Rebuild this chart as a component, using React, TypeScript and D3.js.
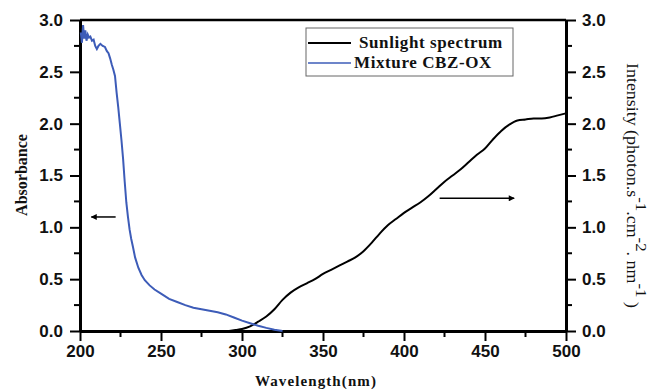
import { useEffect, useRef } from "react";
import * as d3 from "d3";

// Mixture CBZ-OX absorbance (left axis)
const mixtureWavelength = [
    200.5, 201.2, 201.9, 202.6, 203.3, 204.0, 204.8, 205.6, 206.4, 207.4, 208.4, 209.4,
    210.4, 211.4, 212.6, 214.0, 215.4, 216.6, 217.6, 218.6, 219.6, 220.6, 221.6, 222.6,
    223.6, 224.6, 225.6, 226.6, 227.6, 228.6, 229.6, 230.6, 231.6, 232.7, 234, 236, 238,
    240, 243, 246, 250, 255, 260, 265, 270, 275, 280, 285, 290, 295, 300, 305, 310, 315,
    320, 325,
];
const mixtureAbsorbance = [
    2.88, 2.78, 2.95, 2.82, 2.90, 2.80, 2.86, 2.83, 2.84, 2.80, 2.81, 2.75,
    2.72, 2.75, 2.77, 2.75, 2.74, 2.70, 2.68, 2.63, 2.57, 2.52, 2.46, 2.30,
    2.16, 2.00, 1.84, 1.66, 1.44, 1.24, 1.10, 0.98, 0.89, 0.81, 0.71, 0.61, 0.54,
    0.49, 0.44, 0.40, 0.36, 0.31, 0.28, 0.25, 0.225, 0.21, 0.195, 0.18, 0.16, 0.13,
    0.10, 0.075, 0.05, 0.03, 0.012, 0.0,
];

// Sunlight spectrum intensity (right axis)
const sunWavelength = [
    292, 296, 300, 305, 310, 315, 320, 325, 330, 335, 340, 345, 350, 355, 360, 365,
    370, 375, 380, 385, 390, 395, 400, 405, 410, 415, 420, 425, 430, 435, 440, 445,
    450, 455, 460, 465, 470, 475, 480, 485, 490, 495, 500,
];
const sunIntensity = [
    0.0, 0.01, 0.02, 0.045, 0.09, 0.14, 0.21, 0.30, 0.37, 0.42, 0.46, 0.50, 0.55, 0.59,
    0.63, 0.67, 0.71, 0.77, 0.85, 0.94, 1.02, 1.08, 1.14, 1.19, 1.24, 1.30, 1.37, 1.44,
    1.50, 1.56, 1.63, 1.70, 1.76, 1.85, 1.93, 1.99, 2.03, 2.04, 2.05, 2.05, 2.06, 2.08,
    2.10,
];

const xTicks = [200, 250, 300, 350, 400, 450, 500];
const xMinorTicks = [225, 275, 325, 375, 425, 475];
const yTicks = [0, 0.5, 1.0, 1.5, 2.0, 2.5, 3.0];
const yMinorTicks = [0.25, 0.75, 1.25, 1.75, 2.25, 2.75];
const legendLabels = ["Sunlight spectrum", "Mixture CBZ-OX"];

const width = 648;
const height = 390;
const margin = { top: 20, right: 82, bottom: 59, left: 80 };
const blue = "#3d5cb8";
const tickFont = "'Liberation Sans', Arial, sans-serif";
const serif = "'Liberation Serif', 'Times New Roman', serif";

const App = () => {
    const svgRef = useRef<SVGSVGElement>(null);

    useEffect(() => {
        if (!svgRef.current) return;
        const svg = d3.select(svgRef.current);
        svg.selectAll("*").remove();

        const x = d3.scaleLinear().domain([200, 500]).range([margin.left, width - margin.right]);
        const y = d3.scaleLinear().domain([0, 3]).range([height - margin.bottom, margin.top]);
        const yRight = d3.scaleLinear().domain([0, 3]).range([height - margin.bottom, margin.top]);

        const defs = svg.append("defs");
        defs.append("marker")
            .attr("id", "head")
            .attr("viewBox", "0 0 10 10")
            .attr("refX", 9)
            .attr("refY", 5)
            .attr("markerWidth", 5)
            .attr("markerHeight", 4)
            .attr("orient", "auto")
            .append("path")
            .attr("d", "M0,0 L10,5 L0,10 z")
            .attr("fill", "#000");

        // top frame line
        svg.append("line")
            .attr("x1", x(200)).attr("x2", x(500))
            .attr("y1", y(3)).attr("y2", y(3))
            .attr("stroke", "#000").attr("stroke-width", 2.5);

        const styleAxis = (g: d3.Selection<SVGGElement, unknown, null, undefined>) => {
            g.select(".domain").attr("stroke-width", 3);
            g.selectAll(".tick line").attr("stroke-width", 2);
            g.selectAll(".tick text")
                .attr("font-family", tickFont)
                .attr("font-weight", "bold")
                .attr("font-size", 17)
                .attr("fill", "#111");
        };

        const fmt = d3.format(".1f");

        // minor ticks
        const minor = svg.append("g").attr("stroke", "#000").attr("stroke-width", 2);
        minor.selectAll(".mx").data(xMinorTicks).join("line")
            .attr("x1", d => x(d)).attr("x2", d => x(d))
            .attr("y1", y(0)).attr("y2", y(0) + 6);
        minor.selectAll(".ml").data(yMinorTicks).join("line")
            .attr("class", "ml")
            .attr("x1", x(200) - 6).attr("x2", x(200))
            .attr("y1", d => y(d)).attr("y2", d => y(d));
        minor.selectAll(".mr").data(yMinorTicks).join("line")
            .attr("class", "mr")
            .attr("x1", x(500)).attr("x2", x(500) + 6)
            .attr("y1", d => yRight(d)).attr("y2", d => yRight(d));

        svg.append("g")
            .attr("transform", `translate(0,${y(0)})`)
            .call(d3.axisBottom(x).tickValues(xTicks).tickSize(10).tickSizeOuter(0).tickPadding(4))
            .call(styleAxis);

        svg.append("g")
            .attr("transform", `translate(${x(200)},0)`)
            .call(d3.axisLeft(y).tickValues(yTicks).tickSize(10).tickSizeOuter(0).tickPadding(7).tickFormat(d => fmt(d as number)))
            .call(styleAxis);

        svg.append("g")
            .attr("transform", `translate(${x(500)},0)`)
            .call(d3.axisRight(yRight).tickValues(yTicks).tickSize(10).tickSizeOuter(0).tickPadding(6).tickFormat(d => fmt(d as number)))
            .call(styleAxis);

        // curves
        const mixture = mixtureWavelength.map((w, i) => [w, mixtureAbsorbance[i]] as [number, number]);
        const sun = sunWavelength.map((w, i) => [w, sunIntensity[i]] as [number, number]);

        svg.append("path")
            .datum(sun)
            .attr("fill", "none")
            .attr("stroke", "#000")
            .attr("stroke-width", 2)
            .attr("d", d3.line<[number, number]>().x(d => x(d[0])).y(d => yRight(d[1])).curve(d3.curveMonotoneX));

        svg.append("path")
            .datum(mixture)
            .attr("fill", "none")
            .attr("stroke", blue)
            .attr("stroke-width", 2)
            .attr("d", d3.line<[number, number]>().x(d => x(d[0])).y(d => y(d[1])));

        // arrows pointing at the axes
        svg.append("line")
            .attr("x1", x(222)).attr("x2", x(207))
            .attr("y1", y(1.1)).attr("y2", y(1.1))
            .attr("stroke", "#000").attr("stroke-width", 1.5)
            .attr("marker-end", "url(#head)");
        svg.append("line")
            .attr("x1", x(422)).attr("x2", x(468))
            .attr("y1", yRight(1.28)).attr("y2", yRight(1.28))
            .attr("stroke", "#000").attr("stroke-width", 1.5)
            .attr("marker-end", "url(#head)");

        // legend
        const legend = svg.append("g").attr("transform", "translate(306,28)");
        legend.append("rect")
            .attr("width", 207).attr("height", 48)
            .attr("fill", "#fff").attr("stroke", "#666").attr("stroke-width", 1);
        const colors = ["#000", blue];
        const textX = [53, 48];
        legendLabels.forEach((label, i) => {
            legend.append("line")
                .attr("x1", 2).attr("x2", 45)
                .attr("y1", 15 + i * 20).attr("y2", 15 + i * 20)
                .attr("stroke", colors[i]).attr("stroke-width", i === 0 ? 2 : 1.5);
            legend.append("text")
                .attr("x", textX[i]).attr("y", 20 + i * 20)
                .attr("font-family", serif)
                .attr("font-weight", "bold")
                .attr("font-size", 17)
                .attr("letter-spacing", 0.6)
                .attr("fill", "#111")
                .text(label);
        });

        // axis titles
        svg.append("text")
            .attr("transform", "translate(27,175) rotate(-90)")
            .attr("text-anchor", "middle")
            .attr("font-family", serif)
            .attr("font-weight", "bold")
            .attr("font-size", 16)
            .attr("fill", "#111")
            .text("Absorbance");

        svg.append("text")
            .attr("x", 316)
            .attr("y", 386)
            .attr("text-anchor", "middle")
            .attr("font-family", serif)
            .attr("font-weight", "bold")
            .attr("font-size", 15)
            .attr("letter-spacing", 1.1)
            .attr("fill", "#111")
            .text("Wavelength(nm)");

        const rt = svg.append("text")
            .attr("transform", "translate(627,63) rotate(90) scale(1.12,1)")
            .attr("font-family", serif)
            .attr("font-size", 16)
            .attr("fill", "#111");
        const parts: [string, number][] = [
            ["Intensity (photon.s", 0], ["-1", -9], [".cm", 9], ["-2", -9],
            [". nm", 9], ["-1", -9], [" )", 9],
        ];
        parts.forEach(([t, dy]) => {
            rt.append("tspan").attr("dy", dy).attr("font-size", dy < 0 ? 15 : 16).text(t);
        });
    }, []);

    return (
        <svg
            ref={svgRef}
            width={width}
            height={height}
            style={{ position: "absolute", left: 0, top: 0, background: "#fff" }}
        />
    );
};

export default App;
